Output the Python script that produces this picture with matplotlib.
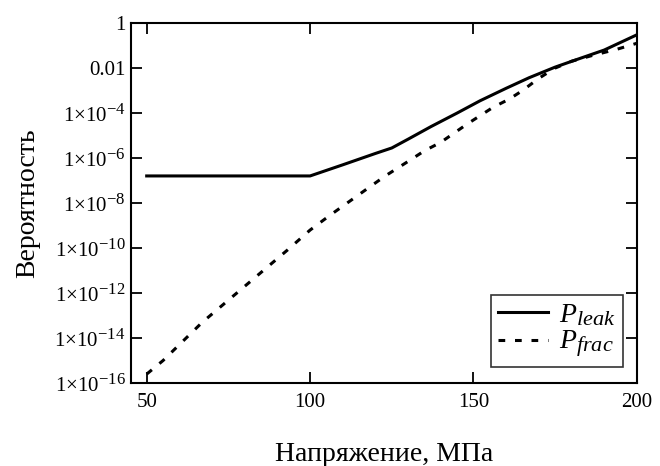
import matplotlib
matplotlib.use('Agg')
import matplotlib.pyplot as plt
from matplotlib.ticker import FixedLocator, FixedFormatter
import matplotlib._mathtext as _mt

# Mathcad-style labels use larger super/subscripts than mathtext's default
_mt.SHRINK_FACTOR = 0.8

plt.rcParams['font.family'] = ['Liberation Serif', 'DejaVu Serif']
plt.rcParams['mathtext.fontset'] = 'custom'
plt.rcParams['mathtext.rm'] = 'Liberation Serif'
plt.rcParams['mathtext.it'] = 'Liberation Serif:italic'

# ── Data ──────────────────────────────────────────────────────
stress_leak = [50, 100, 110, 120, 125, 130, 137, 145, 152, 160, 167, 175, 182, 190, 200]
p_leak = [1.6e-7, 1.6e-7, 5.0e-7, 1.6e-6, 2.8e-6, 6.9e-6, 2.5e-5, 1.0e-4, 3.5e-4,
          1.26e-3, 3.7e-3, 1.1e-2, 2.5e-2, 6.3e-2, 0.3]

stress_frac = [50, 55, 67, 80, 93, 100, 106, 118, 123, 130, 135, 140, 148, 156, 161,
               165, 170, 175, 180, 186, 194, 200]
p_frac = [2.5e-16, 1.0e-15, 5.0e-14, 2.0e-12, 8e-11, 6.3e-10, 2.8e-9, 4.9e-8, 1.6e-7,
          7.1e-7, 2.1e-6, 5e-6, 3.2e-5, 1.8e-4, 4.2e-4, 1e-3, 3.5e-3, 1e-2, 2e-2,
          3.5e-2, 6.9e-2, 0.126]

x_ticks = [50, 100, 150, 200]
y_ticks = [1e-16, 1e-14, 1e-12, 1e-10, 1e-8, 1e-6, 1e-4, 1e-2, 1]
y_tick_labels = [r'$1{\times}10^{-16}$', r'$1{\times}10^{-14}$', r'$1{\times}10^{-12}$',
                 r'$1{\times}10^{-10}$', r'$1{\times}10^{-8}$', r'$1{\times}10^{-6}$',
                 r'$1{\times}10^{-4}$', '0.01', '1']

# ── Plot ─────────────────────────────────────────────────────
fig = plt.figure(figsize=(6.6, 4.66), dpi=100)
ax = fig.add_axes([0.1985, 0.178, 0.7665, 0.7726])

ax.plot(stress_leak, p_leak, color='black', linewidth=2.2, label=r'$P_{leak}$')
ax.plot(stress_frac, p_frac, color='black', linewidth=2.2, dashes=(2.2, 3.2),
        label=r'$P_{frac}$')

ax.set_yscale('log')
ax.set_xlim(45.2, 200)
ax.set_ylim(1e-16, 1)
ax.xaxis.set_major_locator(FixedLocator(x_ticks))
ax.yaxis.set_major_locator(FixedLocator(y_ticks))
ax.yaxis.set_major_formatter(FixedFormatter(y_tick_labels))
ax.yaxis.set_minor_locator(FixedLocator([]))
ax.tick_params(direction='in', top=True, right=True, length=8, width=1.3,
               labelsize=15, pad=4)
ax.tick_params(axis='x', pad=7)
for s in ax.spines.values():
    s.set_linewidth(1.5)

ax.set_xlabel('Напряжение, МПа', fontsize=20, labelpad=22)
ax.set_ylabel('Вероятность', fontsize=20, labelpad=10)

leg = ax.legend(loc='lower right', bbox_to_anchor=(0.972, 0.044), fontsize=20,
                frameon=True, fancybox=False, handlelength=1.8, borderpad=0.25,
                labelspacing=0.05, handletextpad=0.4, borderaxespad=0)
leg.get_frame().set_edgecolor('black')
leg.get_frame().set_linewidth(1.2)

plt.savefig('out.png', dpi=100)
plt.close()
